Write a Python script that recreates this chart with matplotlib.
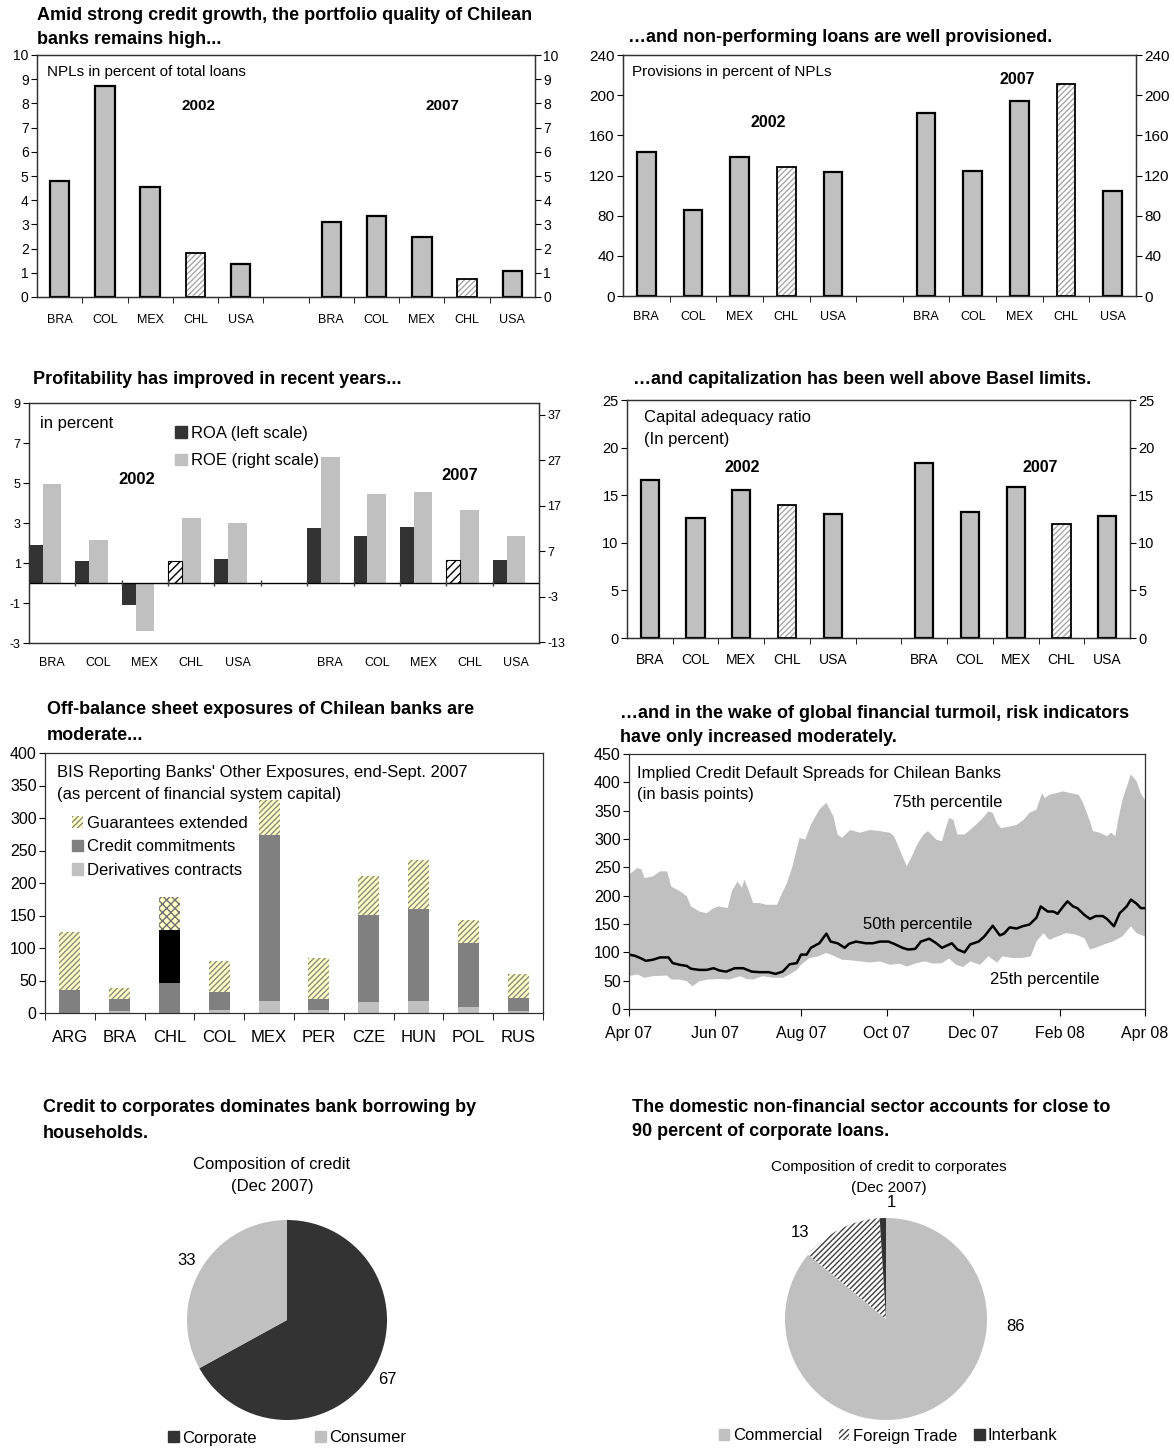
import numpy as np
import matplotlib
matplotlib.use("Agg")
import matplotlib.pyplot as plt
import matplotlib.dates as mdates
from matplotlib.patches import Patch

plt.rcParams['font.family'] = ['Liberation Sans', 'DejaVu Sans']
plt.rcParams['hatch.linewidth'] = 1.0
plt.rcParams['axes.unicode_minus'] = False

# ---------------- data ----------------
countries = ['BRA', 'COL', 'MEX', 'CHL', 'USA']
years = ['2002', '2007']

npl_2002 = [4.8, 8.7, 4.55, 1.8, 1.35]
npl_2007 = [3.1, 3.35, 2.5, 0.75, 1.07]

prov_2002 = [143, 86, 138, 128, 123]
prov_2007 = [182, 124, 194, 211, 105]

roa_2002 = [1.9, 1.1, -1.1, 1.1, 1.2]
roa_2007 = [2.75, 2.35, 2.8, 1.13, 1.13]
roe_2002 = [21.8, 9.5, -10.5, 14.4, 13.2]
roe_2007 = [27.8, 19.6, 20.1, 16.1, 10.4]

car_2002 = [16.6, 12.6, 15.5, 14.0, 13.0]
car_2007 = [18.4, 13.2, 15.9, 12.0, 12.8]

bis_countries = ['ARG', 'BRA', 'CHL', 'COL', 'MEX', 'PER', 'CZE', 'HUN', 'POL', 'RUS']
bis_derivatives = [0, 2.5, 46, 4.5, 18, 4, 16.5, 18, 9, 2.5]
bis_credit = [35, 18.5, 81.5, 27.5, 255.5, 17, 134, 142, 98.5, 20.5]
bis_guarantees = [89, 17, 50.5, 48, 54, 63, 60.5, 75.5, 35, 36.5]

cds_start = '2007-04-01'
cds_p75_days = [0, 6, 9, 11, 17, 22, 27, 30, 36, 41, 44, 50, 55, 60, 64, 70, 73, 77, 80, 82,
                86, 88, 93, 97, 105, 107, 112, 116, 121, 125, 129, 135, 140, 145, 148, 151,
                157, 164, 171, 178, 185, 188, 192, 197, 200, 205, 209, 212, 218, 222, 225,
                227, 230, 233, 238, 242, 246, 251, 255, 258, 261, 264, 270, 275, 280, 284,
                289, 293, 295, 298, 303, 308, 313, 319, 322, 327, 329, 334, 339, 342, 345,
                347, 350, 356, 360, 363, 366]
cds_p75 = [237, 249, 246, 231, 234, 243, 243, 216, 208, 199, 181, 172, 169, 178, 181, 178, 208,
           225, 214, 228, 202, 187, 187, 184, 184, 196, 222, 252, 302, 299, 325, 352, 364, 340,
           308, 302, 316, 311, 316, 314, 311, 305, 281, 252, 266, 293, 308, 314, 299, 296, 322,
           337, 334, 308, 308, 316, 325, 337, 349, 346, 328, 319, 322, 325, 334, 346, 352, 381,
           372, 378, 381, 384, 381, 378, 364, 331, 314, 311, 305, 311, 305, 334, 369, 414, 402,
           381, 369]
cds_p50_days = [0, 4, 8, 12, 17, 22, 28, 31, 36, 41, 44, 50, 55, 60, 64, 69, 75, 81, 87, 93,
                99, 104, 109, 114, 119, 122, 126, 129, 135, 140, 143, 148, 153, 156, 161, 168,
                173, 178, 184, 188, 194, 198, 203, 207, 213, 218, 222, 229, 233, 238, 242, 248,
                252, 258, 263, 266, 270, 275, 279, 284, 289, 292, 297, 301, 304, 308, 311, 315,
                318, 323, 327, 331, 336, 339, 344, 348, 353, 356, 360, 363, 366]
cds_p50 = [96, 94, 90, 85, 87, 91, 91, 81, 78, 76, 71, 69, 69, 72, 68, 66, 72, 72, 66, 65, 65,
           62, 66, 79, 81, 96, 96, 108, 116, 133, 119, 116, 108, 115, 119, 116, 116, 119, 119,
           115, 108, 105, 106, 119, 124, 116, 108, 116, 105, 100, 114, 119, 128, 147, 130, 133,
           144, 142, 146, 149, 161, 181, 172, 172, 168, 181, 190, 181, 178, 166, 159, 164, 164,
           159, 146, 169, 181, 193, 186, 178, 178]
cds_p25_days = [0, 6, 11, 17, 27, 30, 36, 41, 45, 50, 56, 64, 71, 79, 83, 88, 95, 102, 109, 114,
                119, 122, 128, 134, 140, 146, 151, 157, 164, 171, 178, 185, 192, 197, 204, 210,
                216, 222, 227, 232, 237, 242, 249, 255, 261, 265, 272, 279, 285, 289, 294, 298,
                304, 310, 317, 323, 327, 331, 337, 343, 350, 356, 360, 366]
cds_p25 = [58, 61, 55, 58, 59, 52, 52, 49, 40, 49, 52, 53, 52, 58, 53, 52, 58, 55, 55, 61, 69,
           78, 90, 93, 99, 93, 87, 86, 84, 82, 84, 78, 80, 75, 81, 84, 80, 81, 89, 78, 74, 84,
           78, 93, 82, 93, 90, 90, 93, 119, 134, 122, 128, 134, 131, 125, 105, 108, 114, 119,
           128, 146, 134, 128]

credit_labels = ['Corporate', 'Consumer']
credit_shares = [67, 33]
corp_labels = ['Commercial', 'Foreign Trade', 'Interbank']
corp_shares = [86, 13, 1]

# ---------------- layout helpers ----------------
W, H = 1174, 1448
fig = plt.figure(figsize=(W / 100, H / 100), dpi=100)


def add_ax(l, t, r, b):
    return fig.add_axes([l / W, 1 - b / H, (r - l) / W, (b - t) / H])


def ftext(x, y, s, **kw):
    kw.setdefault('va', 'center')
    fig.text(x / W, 1 - y / H, s, **kw)


GRAY = '#c0c0c0'
DARK = '#333333'
TITLE_FS = 13


def style_spines(ax):
    for sp in ax.spines.values():
        sp.set_linewidth(0.9)
        sp.set_color('#303030')


def bar_panel(ax, v02, v07, ylim, yticks, width, xfs, yfs, pad):
    n = len(countries)
    xs = list(np.arange(n)) + list(np.arange(n) + n + 1)
    vals = list(v02) + list(v07)
    labels = countries * 2
    for x, v, c in zip(xs, vals, labels):
        if c == 'CHL':
            ax.bar(x, v, width, color='white', edgecolor='#a8a8a8', hatch='//////', lw=0)
            ax.bar(x, v, width, fill=False, edgecolor='black', lw=1.3)
        else:
            ax.bar(x, v, width, color=GRAY, edgecolor='black', lw=1.6)
    ax.set_xlim(-0.5, 2 * n + 0.5)
    ax.set_ylim(*ylim)
    ax.set_yticks(yticks)
    ax.set_xticks(xs)
    ax.set_xticklabels(labels, fontsize=xfs)
    ax.set_xticks(np.arange(0.5, 2 * n, 1), minor=True)
    ax.tick_params(axis='x', which='major', length=0, pad=pad)
    ax.tick_params(axis='x', which='minor', length=4, direction='out')
    ax.tick_params(axis='y', labelsize=yfs, length=4, pad=2)
    style_spines(ax)
    ax2 = ax.twinx()
    ax2.set_ylim(*ylim)
    ax2.set_yticks(yticks)
    ax2.tick_params(axis='y', labelsize=yfs, length=4, pad=2)
    style_spines(ax2)
    return ax2


# ---------------- Panel 1: NPLs ----------------
ftext(37, 15, 'Amid strong credit growth, the portfolio quality of Chilean', fontsize=TITLE_FS, fontweight='bold')
ftext(37, 40, 'banks remains high...', fontsize=TITLE_FS, fontweight='bold')
ax1 = add_ax(37, 55, 535, 297)
bar_panel(ax1, npl_2002, npl_2007, (0, 10), np.arange(0, 11, 1), 0.43, 9, 10, 12)
ax1.text(0.02, 0.93, 'NPLs in percent of total loans', transform=ax1.transAxes, fontsize=11, va='center')
ax1.text(0.325, 0.79, years[0], transform=ax1.transAxes, fontsize=11, fontweight='bold', ha='center', va='center')
ax1.text(0.815, 0.79, years[1], transform=ax1.transAxes, fontsize=11, fontweight='bold', ha='center', va='center')

# ---------------- Panel 2: Provisions ----------------
ftext(628, 37, '\u2026and non-performing loans are well provisioned.', fontsize=TITLE_FS, fontweight='bold')
ax2 = add_ax(623, 55, 1136, 296)
bar_panel(ax2, prov_2002, prov_2007, (0, 240), np.arange(0, 241, 40), 0.4, 9, 11, 11)
ax2.text(0.018, 0.93, 'Provisions in percent of NPLs', transform=ax2.transAxes, fontsize=11, va='center')
ax2.text(0.283, 0.72, years[0], transform=ax2.transAxes, fontsize=11.5, fontweight='bold', ha='center', va='center')
ax2.text(0.768, 0.9, years[1], transform=ax2.transAxes, fontsize=11.5, fontweight='bold', ha='center', va='center')

# ---------------- Panel 3: ROA / ROE ----------------
ftext(33, 380, 'Profitability has improved in recent years...', fontsize=TITLE_FS, fontweight='bold')
ax3 = add_ax(29, 403, 539, 643)
n = len(countries)
xs = list(np.arange(n)) + list(np.arange(n) + n + 1)
labels3 = countries * 2
roa_all = list(roa_2002) + list(roa_2007)
roe_all = list(roe_2002) + list(roe_2007)
ax3r = ax3.twinx()
for x, v, c in zip(xs, roa_all, labels3):
    if c == 'CHL':
        ax3.bar(x - 0.35, v, 0.3, color='white', edgecolor='black', hatch='////', lw=0.8)
    else:
        ax3.bar(x - 0.35, v, 0.3, color=DARK, lw=0)
ax3r.bar(xs, roe_all, 0.4, color=GRAY, lw=0)
ax3.set_zorder(ax3r.get_zorder() + 1)
ax3.patch.set_visible(False)
ax3.axhline(0, color='black', lw=1.0)
bounds = np.arange(0.5, 2 * n, 1)
ax3.plot(bounds, np.zeros_like(bounds), ls='none', marker='|', ms=5, mew=1, color='#404040')
ax3.set_xlim(-0.5, 2 * n + 0.5)
ax3.set_ylim(-3, 9)
ax3.set_yticks(np.arange(-3, 10, 2))
ax3r.set_ylim(-13.2, 39.6)
ax3r.set_yticks(np.arange(-13, 38, 10))
ax3.set_xticks(xs)
ax3.set_xticklabels(labels3, fontsize=9)
ax3.tick_params(axis='x', length=0, pad=10)
ax3.tick_params(axis='y', labelsize=9, length=4, pad=2)
ax3r.tick_params(axis='y', labelsize=9, length=4, pad=2)
style_spines(ax3)
style_spines(ax3r)
ax3.text(0.022, 0.915, 'in percent', transform=ax3.transAxes, fontsize=12, va='center')
ax3.text(0.212, 0.68, years[0], transform=ax3.transAxes, fontsize=12, fontweight='bold', ha='center', va='center')
ax3.text(0.845, 0.7, years[1], transform=ax3.transAxes, fontsize=12, fontweight='bold', ha='center', va='center')
ax3.legend(handles=[Patch(color=DARK, label='ROA (left scale)'), Patch(color=GRAY, label='ROE (right scale)')],
           loc='upper left', bbox_to_anchor=(0.27, 0.94), frameon=False, fontsize=12,
           handlelength=0.7, handleheight=0.7, handletextpad=0.25, labelspacing=0.75, borderpad=0)

# ---------------- Panel 4: Capital adequacy ----------------
ftext(633, 380, '\u2026and capitalization has been well above Basel limits.', fontsize=TITLE_FS, fontweight='bold')
ax4 = add_ax(627, 400, 1130, 638)
bar_panel(ax4, car_2002, car_2007, (0, 25), np.arange(0, 26, 5), 0.4, 10, 10.5, 11)
ax4.text(0.033, 0.925, 'Capital adequacy ratio', transform=ax4.transAxes, fontsize=12, va='center')
ax4.text(0.033, 0.835, '(In percent)', transform=ax4.transAxes, fontsize=12, va='center')
ax4.text(0.23, 0.715, years[0], transform=ax4.transAxes, fontsize=11.5, fontweight='bold', ha='center', va='center')
ax4.text(0.822, 0.715, years[1], transform=ax4.transAxes, fontsize=11.5, fontweight='bold', ha='center', va='center')

# ---------------- Panel 5: BIS exposures ----------------
ftext(47, 710, 'Off-balance sheet exposures of Chilean banks are', fontsize=TITLE_FS, fontweight='bold')
ftext(47, 735, 'moderate...', fontsize=TITLE_FS, fontweight='bold')
ax5 = add_ax(45, 753, 543, 1013)
bx = np.arange(len(bis_countries))
GUAR_FACE = '#ffffc8'
GUAR_HATCH = '#8c8c7a'
for i, c in enumerate(bis_countries):
    d, cr, g = bis_derivatives[i], bis_credit[i], bis_guarantees[i]
    if c == 'CHL':
        ax5.bar(i, d, 0.42, color='#808080', lw=0)
        ax5.bar(i, cr, 0.42, bottom=d, color='black', lw=0)
        ax5.bar(i, g, 0.42, bottom=d + cr, color=GUAR_FACE, edgecolor='#6f6f6f', hatch='xxxx', lw=0)
    else:
        ax5.bar(i, d, 0.42, color=GRAY, lw=0)
        ax5.bar(i, cr, 0.42, bottom=d, color='#808080', lw=0)
        ax5.bar(i, g, 0.42, bottom=d + cr, color=GUAR_FACE, edgecolor=GUAR_HATCH, hatch='//////', lw=0)
ax5.set_xlim(-0.5, len(bis_countries) - 0.5)
ax5.set_ylim(0, 400)
ax5.set_yticks(np.arange(0, 401, 50))
ax5.set_xticks(bx)
ax5.set_xticklabels(bis_countries, fontsize=12)
ax5.set_xticks(np.arange(-0.5, len(bis_countries), 1), minor=True)
ax5.tick_params(axis='x', which='major', length=0, pad=12)
ax5.tick_params(axis='x', which='minor', length=5, direction='out')
ax5.tick_params(axis='y', labelsize=11.5, length=4, pad=2)
style_spines(ax5)
ax5.text(0.024, 0.925, "BIS Reporting Banks' Other Exposures, end-Sept. 2007", transform=ax5.transAxes, fontsize=12, va='center')
ax5.text(0.024, 0.84, '(as percent of financial system capital)', transform=ax5.transAxes, fontsize=12, va='center')
ax5.legend(handles=[Patch(facecolor=GUAR_FACE, edgecolor=GUAR_HATCH, hatch='//////', lw=0, label='Guarantees extended'),
                    Patch(color='#808080', label='Credit commitments'),
                    Patch(color=GRAY, label='Derivatives contracts')],
           loc='upper left', bbox_to_anchor=(0.037, 0.79), frameon=False, fontsize=12,
           handlelength=0.7, handleheight=0.7, handletextpad=0.2, labelspacing=0.5, borderpad=0)

# ---------------- Panel 6: CDS ----------------
ftext(620, 713, '\u2026and in the wake of global financial turmoil, risk indicators', fontsize=TITLE_FS, fontweight='bold')
ftext(620, 738, 'have only increased moderately.', fontsize=TITLE_FS, fontweight='bold')
ax6 = add_ax(629, 754, 1145, 1009)
t0 = np.datetime64(cds_start)
d75 = t0 + np.array(cds_p75_days).astype('timedelta64[D]')
d50 = t0 + np.array(cds_p50_days).astype('timedelta64[D]')
d25 = t0 + np.array(cds_p25_days).astype('timedelta64[D]')
poly_x = np.concatenate([d75, d25[::-1]])
poly_y = np.concatenate([cds_p75, cds_p25[::-1]])
ax6.fill(poly_x, poly_y, color=GRAY, lw=0)
ax6.plot(d50, cds_p50, color='black', lw=1.8)
ax6.set_xlim(t0, np.datetime64('2008-04-01'))
ax6.set_ylim(0, 450)
ax6.set_yticks(np.arange(0, 451, 50))
ax6.xaxis.set_major_locator(mdates.MonthLocator(bymonth=[2, 4, 6, 8, 10, 12]))
ax6.xaxis.set_major_formatter(mdates.DateFormatter('%b %y'))
ax6.tick_params(axis='x', labelsize=11.5, length=5, pad=7)
ax6.tick_params(axis='y', labelsize=11.5, length=4, pad=2)
style_spines(ax6)
ax6.text(0.016, 0.925, 'Implied Credit Default Spreads for Chilean Banks', transform=ax6.transAxes, fontsize=12, va='center')
ax6.text(0.016, 0.84, '(in basis points)', transform=ax6.transAxes, fontsize=12, va='center')
ax6.text(0.618, 0.81, '75th percentile', transform=ax6.transAxes, fontsize=12, ha='center', va='center')
ax6.text(0.56, 0.33, '50th percentile', transform=ax6.transAxes, fontsize=12, ha='center', va='center')
ax6.text(0.805, 0.115, '25th percentile', transform=ax6.transAxes, fontsize=12, ha='center', va='center')

# ---------------- Panel 7: pie composition of credit ----------------
ftext(43, 1108, 'Credit to corporates dominates bank borrowing by', fontsize=TITLE_FS, fontweight='bold')
ftext(43, 1133, 'households.', fontsize=TITLE_FS, fontweight='bold')
ftext(272, 1165, 'Composition of credit', fontsize=12, ha='center')
ftext(272, 1187, '(Dec 2007)', fontsize=12, ha='center')
ax7 = add_ax(187, 1220, 387, 1420)
wedges, _ = ax7.pie(credit_shares, colors=[DARK, GRAY], startangle=90, counterclock=False,
                    radius=1, wedgeprops=dict(lw=0))
for w, v in zip(wedges, credit_shares):
    ang = np.deg2rad((w.theta1 + w.theta2) / 2)
    ax7.text(1.17 * np.cos(ang), 1.17 * np.sin(ang), str(v), fontsize=12, ha='center', va='center')
ax7.set_xlim(-1, 1)
ax7.set_ylim(-1, 1)
ax7.set_aspect('equal')
ax7.axis('off')
fig.legend(handles=[Patch(color=DARK, label=credit_labels[0]), Patch(color=GRAY, label=credit_labels[1])],
           loc='center', bbox_to_anchor=(287 / W, 1 - 1438 / H), ncol=2, frameon=False, fontsize=12,
           handlelength=0.65, handleheight=0.65, handletextpad=0.2, columnspacing=3.5, borderpad=0)

# ---------------- Panel 8: pie composition of credit to corporates ----------------
ftext(632, 1107, 'The domestic non-financial sector accounts for close to', fontsize=TITLE_FS, fontweight='bold')
ftext(632, 1132, '90 percent of corporate loans.', fontsize=TITLE_FS, fontweight='bold')
ftext(889, 1167, 'Composition of credit to corporates', fontsize=11, ha='center')
ftext(889, 1188, '(Dec 2007)', fontsize=11, ha='center')
ax8 = add_ax(785, 1218, 987, 1420)
wedges2, _ = ax8.pie(corp_shares, colors=[GRAY, 'white', DARK], startangle=90, counterclock=False,
                     radius=1, wedgeprops=dict(lw=0))
wedges2[1].set_hatch('//////')
wedges2[1].set_edgecolor('#404040')
wedges2[1].set_linewidth(0)
ax8.text(1.28, -0.07, str(corp_shares[0]), fontsize=12, ha='center', va='center')
ax8.text(-0.85, 0.86, str(corp_shares[1]), fontsize=12, ha='center', va='center')
ax8.text(0.05, 1.15, str(corp_shares[2]), fontsize=12, ha='center', va='center')
ax8.set_xlim(-1, 1)
ax8.set_ylim(-1, 1)
ax8.set_aspect('equal')
ax8.axis('off')
fig.legend(handles=[Patch(color=GRAY, label=corp_labels[0]),
                    Patch(facecolor='white', edgecolor='#404040', hatch='//////', lw=0, label=corp_labels[1]),
                    Patch(color=DARK, label=corp_labels[2])],
           loc='center', bbox_to_anchor=(888 / W, 1 - 1436 / H), ncol=3, frameon=False, fontsize=12,
           handlelength=0.65, handleheight=0.65, handletextpad=0.2, columnspacing=1.0, borderpad=0)

fig.savefig('out.png', dpi=100)
